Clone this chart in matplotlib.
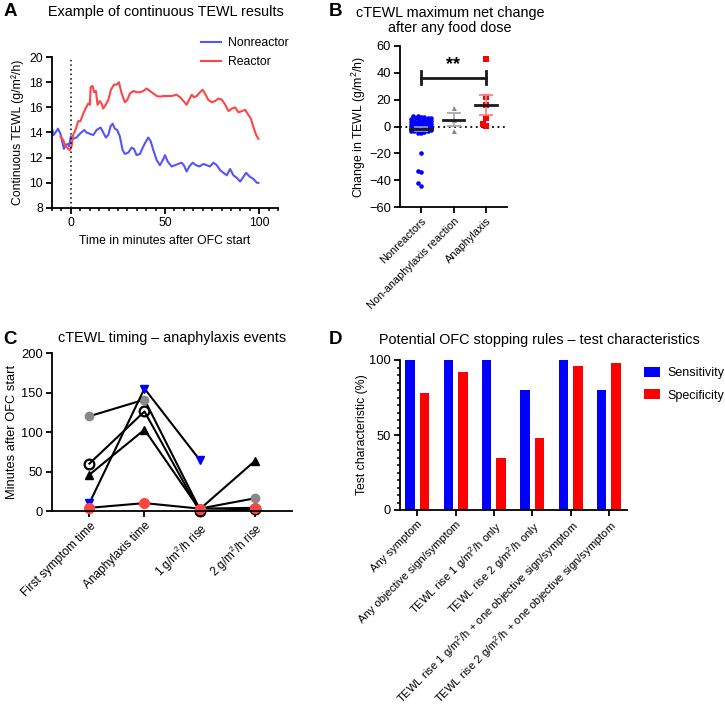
import numpy as np
import matplotlib
matplotlib.use("Agg")
import matplotlib.pyplot as plt
from matplotlib.ticker import MultipleLocator
from matplotlib.lines import Line2D

plt.rcParams['font.family'] = ['Liberation Sans', 'DejaVu Sans']
plt.rcParams['mathtext.default'] = 'regular'
plt.rcParams['axes.linewidth'] = 1.3
plt.rcParams['xtick.major.width'] = 1.3
plt.rcParams['ytick.major.width'] = 1.3
plt.rcParams['xtick.minor.width'] = 1.1
plt.rcParams['ytick.minor.width'] = 1.1
plt.rcParams['xtick.labelsize'] = 8.8
plt.rcParams['ytick.labelsize'] = 8.8

# ---- panel A: continuous TEWL example
t_non = [-10, -9.1, -6.8, -5.5, -3.7, -2.7, -1.4, -0.9, 0, 1.2, 3.0, 4.8, 7.1, 8.3, 10.1,
         11.9, 13.7, 15.8, 17.2, 18.6, 19.9, 21.1, 22.2, 23.4, 24.6, 26.0, 27.5, 28.7,
         30.5, 32.3, 33.5, 34.9, 36.7, 38.5, 39.9, 41.1, 42.4, 43.8, 45.6, 47.3, 48.8,
         50.0, 51.4, 53.5, 55.3, 57.0, 58.8, 60.0, 61.5, 62.9, 64.7, 66.5, 68.3, 70.4,
         72.2, 73.9, 75.7, 77.5, 79.3, 81.0, 82.8, 84.6, 86.3, 88.1, 89.9, 91.3, 93.1,
         94.9, 97.0, 98.8, 99.6]
v_non = [14.3, 13.8, 14.3, 13.9, 12.7, 13.0, 13.1, 12.9, 13.7, 13.5, 13.6, 13.9, 14.2, 14.0, 13.9,
         13.8, 14.2, 14.4, 14.0, 13.6, 13.8, 14.5, 14.7, 14.3, 14.2, 13.7, 12.6, 12.3,
         12.4, 12.8, 12.7, 12.2, 12.3, 12.9, 13.3, 13.6, 13.3, 12.6, 11.8, 11.4, 11.8,
         12.2, 11.7, 11.3, 11.4, 11.5, 11.6, 11.4, 10.9, 11.3, 11.6, 11.4, 11.3, 11.5,
         11.4, 11.3, 11.6, 11.4, 11.0, 10.8, 10.6, 11.1, 10.6, 10.4, 10.1, 10.4, 10.8,
         10.5, 10.3, 10.0, 10.0]
t_rea = [-5.5, -4.1, -2.7, -1.4, -0.5, 0.4, 1.2, 2.7, 3.9, 5.1, 6.6, 7.8, 9.2, 10.1, 10.5,
         11.5, 12.4, 13.3, 14.2, 15.4, 16.3, 17.2, 18.5, 19.9, 21.3, 22.9, 24.3, 25.5,
         27.0, 28.7, 30.0, 31.4, 33.2, 35.0, 36.7, 38.5, 40.2, 42.0, 43.8, 45.6, 47.3,
         49.1, 50.9, 53.5, 56.2, 58.0, 59.8, 61.5, 62.4, 64.2, 65.4, 66.8, 68.6, 70.0,
         71.2, 73.0, 74.8, 76.6, 78.4, 80.2, 82.0, 83.7, 85.5, 87.2, 89.0, 90.8, 92.6,
         93.8, 95.6, 97.0, 98.4, 99.6]
v_rea = [13.7, 13.4, 12.9, 12.7, 12.6, 12.9, 13.8, 14.3, 14.9, 14.9, 15.5, 15.9, 16.3, 16.2, 17.6,
         17.7, 17.2, 17.3, 16.2, 16.5, 16.3, 15.9, 16.2, 16.6, 17.4, 17.8, 17.8, 18.0,
         17.1, 16.4, 16.6, 17.1, 17.3, 17.2, 17.2, 17.3, 17.5, 17.3, 17.1, 16.9, 16.85,
         16.9, 16.9, 16.9, 17.0, 16.8, 16.5, 16.2, 16.5, 17.0, 16.8, 16.9, 17.2, 17.4,
         17.1, 16.6, 16.4, 16.5, 16.7, 16.6, 16.2, 15.7, 15.9, 16.0, 15.6, 15.7, 15.8,
         15.5, 15.1, 14.4, 13.8, 13.5]

# ---- panel B: max net change
groups_b = ["Nonreactors", "Non-anaphylaxis reaction", "Anaphylaxis"]
nonreactors = [8, 7.5, 7, 7, 6.5, 6, 6, 5.5, 5, 5, 4.5, 4, 4, 4, 3.5, 3.5, 3, 3, 3, 2.5,
               2.5, 2, 2, 2, 2, 1.5, 1.5, 1, 1, 1, 1, 0.5, 0.5, 0, 0, 0, 0, -0.5, -1, -1,
               -1.5, -2, -2, -2.5, -3, -3, -3.5, -4, -4.5, -5,
               -20, -33, -34, -42, -44]
non_ana = [13.5, 4.5, -3]
anaphylaxis = [50, 22, 16, 6, 0.5, 1.5]

# ---- panel C: timing
cats_c = ["First symptom time", "Anaphylaxis time", "1 g/m$^2$/h rise", "2 g/m$^2$/h rise"]
pt_gray = [120, 141, 3, 16]
pt_open = [60, 126, 0, 2]
pt_tri = [46, 103, 2, 63]
pt_blue = [10, 155, 65, np.nan]
pt_red = [4, 10, 3, 4]

# ---- panel D: stopping rules
rules = ["Any symptom", "Any objective sign/symptom", "TEWL rise 1 g/m$^2$/h only",
         "TEWL rise 2 g/m$^2$/h only", "TEWL rise 1 g/m$^2$/h + one objective sign/symptom",
         "TEWL rise 2 g/m$^2$/h + one objective sign/symptom"]
sensitivity = [100, 100, 100, 80, 100, 80]
specificity = [78, 92, 35, 48, 96, 98]

W, H = 725, 708
fig = plt.figure(figsize=(W / 100, H / 100), dpi=100)
FS = 8.8

def box(l, t, r, b):
    return [l / W, 1 - b / H, (r - l) / W, (b - t) / H]

def clean(ax):
    ax.spines['top'].set_visible(False)
    ax.spines['right'].set_visible(False)
    ax.tick_params(direction='out', length=4, pad=2.5)
    ax.tick_params(which='minor', length=2.5)

# A
axA = fig.add_axes(box(52, 57, 278, 208))
axA.plot(t_non, v_non, color='#5555ff', lw=1.5, label='Nonreactor')
axA.plot(t_rea, v_rea, color='#ff4545', lw=1.5, label='Reactor')
axA.axvline(0, color='black', ls=(0, (1, 2)), lw=1.1)
axA.set_xlim(-10, 110)
axA.set_ylim(8, 20)
axA.set_xticks([0, 50, 100])
axA.xaxis.set_minor_locator(MultipleLocator(5))
axA.set_yticks(range(8, 21, 2))
axA.set_xlabel("Time in minutes after OFC start", fontsize=FS)
axA.set_ylabel("Continuous TEWL (g/m\u00b2/h)", fontsize=FS)
clean(axA)
axA.legend(loc='upper left', bbox_to_anchor=(195 / W, 1 - 31 / H), bbox_transform=fig.transFigure,
           frameon=False, fontsize=FS, handlelength=1.6, handletextpad=0.6, borderpad=0,
           labelspacing=0.6)

# B
axB = fig.add_axes(box(400, 46, 507, 207))
xpx, ypx, dpx, cap = 32.5, 1.34, 3.4, 0.32

def swarm(vals):
    order = np.argsort(vals)
    offs = np.zeros(len(vals))
    placed = []
    step = dpx / xpx / 2
    n = int(cap / step)
    cands = sorted([k * step for k in range(-n, n + 1)], key=lambda o: (abs(o), o))
    for i in order:
        v = vals[i]
        best, bestd = 0.0, -1
        for o in cands:
            d = min([np.hypot((o - po) * xpx, (v - pv) * ypx) for po, pv in placed] or [99])
            if d >= dpx:
                best = o
                break
            if d > bestd:
                best, bestd = o, d
        offs[i] = best
        placed.append((best, v))
    return offs

series_b = [(nonreactors, '#0000ff', '#8c8cff', 'o', 3.3),
            (non_ana, '#888888', '#aaaaaa', '^', 3.6),
            (anaphylaxis, '#ff0000', '#ff8080', 's', 3.8)]
for i, (vals, c, ce, mk, ms) in enumerate(series_b):
    vals = np.array(vals, dtype=float)
    xo = swarm(vals) + i
    axB.plot(xo, vals, ls='none', marker=mk, color=c, ms=ms, mew=0, zorder=3)
    m = vals.mean()
    se = vals.std(ddof=1) / np.sqrt(len(vals))
    axB.errorbar(i, m, yerr=se, color=ce, capsize=5, lw=1.3, capthick=1.3, zorder=4)
    axB.plot([i - 0.33, i + 0.33], [m, m], color='#1a1a1a', lw=2, zorder=5)
axB.axhline(0, color='black', ls=(0, (1, 2)), lw=1.3, zorder=2)
axB.plot([0, 2], [36.5, 36.5], color='#1a1a1a', lw=2)
axB.plot([0, 0], [31.5, 41], color='#1a1a1a', lw=2)
axB.plot([2, 2], [31.5, 41], color='#1a1a1a', lw=2)
axB.text(1, 39.5, "**", ha='center', va='bottom', fontsize=13, fontweight='bold')
axB.set_xlim(-0.65, 2.65)
axB.set_ylim(-60, 60)
axB.set_yticks(range(-60, 61, 20))
axB.tick_params(axis='y', labelsize=9.3)
axB.set_xticks(range(3))
axB.set_xticklabels(groups_b, rotation=45, ha='right', rotation_mode='anchor', fontsize=7.9)
axB.set_ylabel("Change in TEWL (g/m$^2$/h)", fontsize=FS, labelpad=1)
clean(axB)

# C
axC = fig.add_axes(box(52, 353, 292, 511))
xc = np.arange(4)
kw = dict(color='black', lw=1.5)
axC.plot(xc, pt_gray, marker='o', mfc='#888888', mec='#888888', ms=6, **kw)
axC.plot(xc, pt_open, marker='o', mfc='none', mec='black', mew=1.6, ms=7, **kw)
axC.plot(xc, pt_tri, marker='^', mfc='black', mec='black', ms=6, **kw)
axC.plot(xc, pt_blue, marker='v', mfc='#0000ff', mec='#0000ff', ms=6, **kw)
axC.plot(xc, pt_red, marker='o', mfc='#ff4444', mec='#ff4444', ms=7, **kw)
axC.set_xlim(-0.68, 3.68)
axC.set_ylim(0, 200)
axC.set_yticks(range(0, 201, 50))
axC.tick_params(axis='y', labelsize=9.3)
axC.set_xticks(xc)
axC.set_xticklabels(cats_c, rotation=45, ha='right', rotation_mode='anchor', fontsize=8.5)
axC.set_ylabel("Minutes after OFC start", fontsize=9.3, labelpad=2)
clean(axC)
for c in axC.get_children():
    if isinstance(c, Line2D):
        c.set_clip_on(False)

# D
axD = fig.add_axes(box(400, 360, 627, 510))
xd = np.arange(len(rules))
axD.bar(xd - 0.19, sensitivity, width=0.25, color='#0000ff', label='Sensitivity')
axD.bar(xd + 0.19, specificity, width=0.25, color='#ff0000', label='Specificity')
axD.set_xlim(-0.45, 5.47)
axD.set_ylim(0, 100)
axD.set_yticks([0, 50, 100])
axD.tick_params(axis='y', labelsize=9.3)
axD.yaxis.set_minor_locator(MultipleLocator(5))
axD.set_xticks(xd)
axD.set_xticklabels(rules, rotation=45, ha='right', rotation_mode='anchor', fontsize=8.1)
axD.set_ylabel("Test characteristic (%)", fontsize=FS, labelpad=1)
clean(axD)
axD.legend(loc='upper left', bbox_to_anchor=(638 / W, 1 - 361 / H), bbox_transform=fig.transFigure,
           frameon=False, fontsize=9, handlelength=1.25, handleheight=0.8, handletextpad=0.6,
           borderpad=0, labelspacing=0.8)

# titles and panel letters
TS = 10.4
fig.text(166 / W, 1 - 12 / H, "Example of continuous TEWL results", ha='center', va='center', fontsize=TS)
fig.text(450 / W, 1 - 6 / H, "cTEWL maximum net change\nafter any food dose", ha='center', va='top',
         fontsize=TS, linespacing=1.1)
fig.text(172 / W, 1 - 338 / H, "cTEWL timing \u2013 anaphylaxis events", ha='center', va='center', fontsize=TS)
fig.text(539 / W, 1 - 340 / H, "Potential OFC stopping rules \u2013 test characteristics", ha='center',
         va='center', fontsize=TS)
for lab, x, y in [("A", 10, 12), ("B", 335, 12), ("C", 10, 340), ("D", 336, 340)]:
    fig.text(x / W, 1 - y / H, lab, ha='center', va='center', fontsize=13.5, fontweight='bold')

fig.savefig("out.png", dpi=100)
